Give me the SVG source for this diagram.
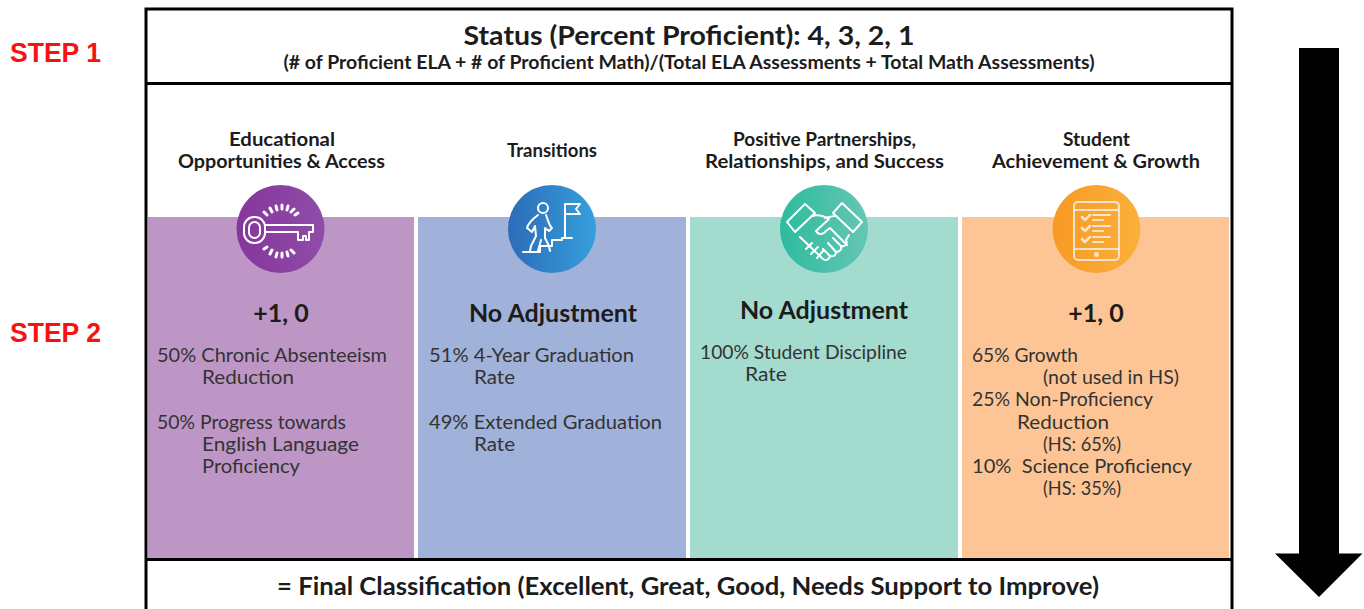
<svg xmlns="http://www.w3.org/2000/svg" width="1364" height="609" viewBox="0 0 1364 609">
<style>
text{font-family:"Lato","Liberation Sans",sans-serif;fill:#2b2b2b;white-space:pre}
.h{font-weight:700;font-size:19.5px;text-anchor:middle;fill:#1c1c1c}
.b{font-size:19.5px;fill:#333}
.a{font-weight:700;font-size:25px;text-anchor:middle;fill:#1c1c1c}
.t{font-weight:700;text-anchor:middle;fill:#1c1c1c}
.s{font-family:"Liberation Sans",sans-serif;font-weight:700;font-size:27px;fill:#f91010}
.w{fill:none;stroke:#fff;stroke-width:2;stroke-linecap:round;stroke-linejoin:round}
.wt{fill:none;stroke:#f9e3c8;stroke-width:2;stroke-linecap:round;stroke-linejoin:round}
</style>
<defs>
<linearGradient id="gp" x1="0" y1="0" x2="1" y2="0"><stop offset="0" stop-color="#86369b"/><stop offset="1" stop-color="#8f4ca8"/></linearGradient>
<linearGradient id="gb" x1="0" y1="0" x2="1" y2="0"><stop offset="0" stop-color="#2c6cb8"/><stop offset="1" stop-color="#369fdc"/></linearGradient>
<linearGradient id="gt" x1="0" y1="0" x2="1" y2="0"><stop offset="0" stop-color="#2dbb9f"/><stop offset="1" stop-color="#65c6b3"/></linearGradient>
<linearGradient id="go" x1="0" y1="0" x2="1" y2="0"><stop offset="0" stop-color="#f79a24"/><stop offset="1" stop-color="#fbb03c"/></linearGradient>
</defs>
<rect width="1364" height="609" fill="#fff"/>
<g id="panels">
<rect x="148" y="217" width="266" height="341" fill="#bd96c6"/>
<rect x="418" y="217" width="268" height="341" fill="#a0b1da"/>
<rect x="690" y="217" width="268" height="341" fill="#a4dbcf"/>
<rect x="962" y="217" width="267" height="341" fill="#fdc595"/>
</g>
<g id="frame" fill="none" stroke="#000" stroke-width="3">
<path d="M146 612V9H1232V612"/>
<path d="M146 83.500H1232M146 559.500H1232"/>
</g>
<g id="step1"><text class="s" x="10" y="62" textLength="91" lengthAdjust="spacingAndGlyphs">STEP 1</text></g>
<g id="step2"><text class="s" x="10" y="342" textLength="91" lengthAdjust="spacingAndGlyphs">STEP 2</text></g>
<g id="status">
<text class="t" x="689" y="45" font-size="27" textLength="451" lengthAdjust="spacingAndGlyphs">Status (Percent Proficient): 4, 3, 2, 1</text>
<text class="t" x="689" y="69" font-size="18.500" textLength="811" lengthAdjust="spacingAndGlyphs">(# of Proficient ELA + # of Proficient Math)/(Total ELA Assessments + Total Math Assessments)</text>
</g>
<g id="final"><text class="t" x="688" y="595" font-size="25" textLength="822" lengthAdjust="spacingAndGlyphs">= Final Classification (Excellent, Great, Good, Needs Support to Improve)</text></g>
<g id="educational">
<text class="h" x="282" y="146" textLength="106" lengthAdjust="spacingAndGlyphs">Educational</text>
<text class="h" x="281.500" y="168" textLength="207" lengthAdjust="spacingAndGlyphs">Opportunities &amp; Access</text>
<circle cx="280.500" cy="229" r="44" fill="url(#gp)"/>
<g class="w">
<rect x="244" y="217" width="21" height="26" rx="10"/>
<rect x="249" y="222" width="11" height="16" rx="5.500"/>
<path d="M265 225H313V232H309V240H306V236H303V240H298V232H265"/>
</g>
<path d="M264 212l3 3M270 208l2 4M276 206l1 4M282 205v4M288 206l-1 4M294 209l-3 3M298 213l-3 2M264 249l3-2M270 254l2-4M276 257l1-4M282 257v-4M288 256l-1-4M294 253l-3-3" stroke="#fff" stroke-width="3" stroke-linecap="round" fill="none"/>
<text class="a" x="281" y="322">+1, 0</text>
<text class="b" x="157" y="362" textLength="230" lengthAdjust="spacingAndGlyphs">50% Chronic Absenteeism</text>
<text class="b" x="202" y="384" textLength="92" lengthAdjust="spacingAndGlyphs">Reduction</text>
<text class="b" x="157" y="429" textLength="189" lengthAdjust="spacingAndGlyphs">50% Progress towards</text>
<text class="b" x="202" y="451" textLength="157" lengthAdjust="spacingAndGlyphs">English Language</text>
<text class="b" x="202" y="473" textLength="98" lengthAdjust="spacingAndGlyphs">Proficiency</text>
</g>
<g id="transitions">
<text class="h" x="552" y="157" textLength="90" lengthAdjust="spacingAndGlyphs">Transitions</text>
<circle cx="552" cy="229" r="44" fill="url(#gb)"/>
<g class="w">
<circle cx="543" cy="208" r="5"/>
<path d="M523 252H540V246H552V240H562V238H572"/>
<path d="M565 237V204H580L576 209 580 214H565"/>
<path d="M538 215C534 218 528 224 527 228L532 232 535 226 536 236 531 246 530 251M546 215C548 220 549 226 552 228L549 231 545 228 545 238 549 246 550 251 M538 251 541 240"/>
</g>
<text class="a" x="553" y="322">No Adjustment</text>
<text class="b" x="429" y="362" textLength="205" lengthAdjust="spacingAndGlyphs">51% 4-Year Graduation</text>
<text class="b" x="474" y="384" textLength="41" lengthAdjust="spacingAndGlyphs">Rate</text>
<text class="b" x="429" y="429" textLength="233" lengthAdjust="spacingAndGlyphs">49% Extended Graduation</text>
<text class="b" x="474" y="451" textLength="41" lengthAdjust="spacingAndGlyphs">Rate</text>
</g>
<g id="partnerships">
<text class="h" x="824.500" y="146" textLength="183" lengthAdjust="spacingAndGlyphs">Positive Partnerships,</text>
<text class="h" x="824.500" y="168" textLength="239" lengthAdjust="spacingAndGlyphs">Relationships, and Success</text>
<circle cx="824" cy="229" r="44" fill="url(#gt)"/>
<g class="w">
<path d="M787 222L805 204 815 213 795 232ZM862 222L842 203 833 213 853 232Z"/>
<path d="M812 216C818 214 824 216 829 219L816 231C818 235 823 235 826 231L830 228 847 245"/>
<path d="M836 216C832 216 829 217 825 218M800 237L823 259C826 261 829 260 830 256 834 257 836 255 836 252 840 252 842 249 841 246 845 247 848 244 846 240L849 235"/>
<path d="M812 243L806 249M818 247L811 254M823 251L817 258M830 256L823 249M836 252L828 243M841 246L833 238"/>
</g>
<text class="a" x="824" y="319">No Adjustment</text>
<text class="b" x="700" y="359" textLength="207" lengthAdjust="spacingAndGlyphs">100% Student Discipline</text>
<text class="b" x="745" y="381" textLength="42" lengthAdjust="spacingAndGlyphs">Rate</text>
</g>
<g id="achievement">
<text class="h" x="1096.500" y="146" textLength="67" lengthAdjust="spacingAndGlyphs">Student</text>
<text class="h" x="1096" y="168" textLength="208" lengthAdjust="spacingAndGlyphs">Achievement &amp; Growth</text>
<circle cx="1096.500" cy="229" r="44" fill="url(#go)"/>
<g class="wt">
<rect x="1074" y="202" width="45" height="58" rx="4"/>
<path d="M1074 210h45M1074 249h45"/>
<path d="M1082 217l3 3 5-5M1082 228l3 3 5-5M1082 239l3 3 5-5" stroke-width="2.500"/>
<path d="M1093 215h17M1093 220h10M1093 226h17M1093 231h10M1093 237h17M1093 242h10"/>
</g>
<circle cx="1096.500" cy="254.500" r="2.500" fill="#f9e3c8"/>
<text class="a" x="1096" y="322">+1, 0</text>
<text class="b" x="972" y="362" textLength="106" lengthAdjust="spacingAndGlyphs">65% Growth</text>
<text class="b" x="1043" y="384" textLength="136" lengthAdjust="spacingAndGlyphs">(not used in HS)</text>
<text class="b" x="972" y="406" textLength="181" lengthAdjust="spacingAndGlyphs">25% Non-Proficiency</text>
<text class="b" x="1017" y="429" textLength="92" lengthAdjust="spacingAndGlyphs">Reduction</text>
<text class="b" x="1043" y="451" textLength="78" lengthAdjust="spacingAndGlyphs">(HS: 65%)</text>
<text class="b" x="972" y="473" textLength="220" lengthAdjust="spacingAndGlyphs">10%  Science Proficiency</text>
<text class="b" x="1043" y="495" textLength="78" lengthAdjust="spacingAndGlyphs">(HS: 35%)</text>
</g>
<g id="arrow"><path d="M1299 48H1339V553.500H1362.500L1319 597 1275 553.500H1299Z" fill="#000"/></g>
</svg>
